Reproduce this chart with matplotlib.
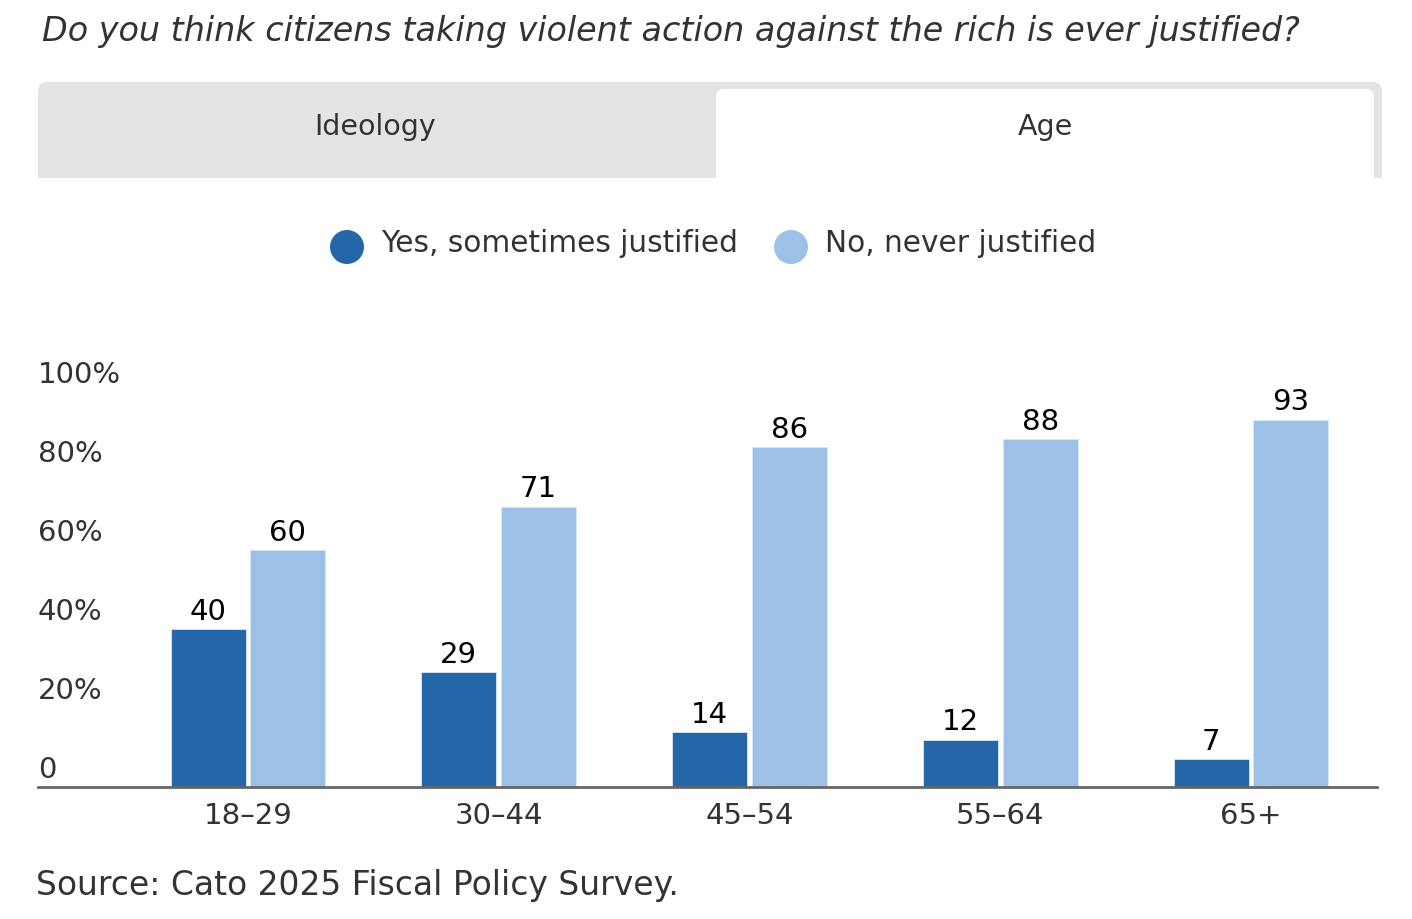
import matplotlib
matplotlib.use('Agg')
import numpy as np
import matplotlib.pyplot as plt
from matplotlib.patches import FancyBboxPatch, Rectangle, Circle
from matplotlib.transforms import Affine2D

plt.rcParams['font.family'] = ['DejaVu Sans']

# data
ages = ['18–29', '30–44', '45–54', '55–64', '65+']
yes_vals = [40, 29, 14, 12, 7]
no_vals = [60, 71, 86, 88, 93]
series_names = ['Yes, sometimes justified', 'No, never justified']
yticks = [0, 20, 40, 60, 80, 100]
ytick_labels = ['0', '20%', '40%', '60%', '80%', '100%']

dark = '#2566a8'
light = '#9dc1e6'
txt = '#333333'

W, H = 1412, 920
fig = plt.figure(figsize=(W / 100, H / 100), dpi=100)
# pixel coordinates, origin top-left
px = Affine2D().scale(1 / W, -1 / H).translate(0, 1) + fig.transFigure

# title
fig.text(42, 32, 'Do you think citizens taking violent action against the rich is ever justified?',
         transform=px, fontsize=24, style='italic', color=txt, va='center', ha='left')

# tabs
fig.patches.append(FancyBboxPatch((38, 83), 1344, 140, boxstyle='round,pad=0,rounding_size=9',
                                  transform=px, facecolor='#e4e4e4', edgecolor='none', zorder=1))
fig.patches.append(FancyBboxPatch((716, 90), 658, 140, boxstyle='round,pad=0,rounding_size=8',
                                  transform=px, facecolor='white', edgecolor='none', zorder=2))
fig.patches.append(Rectangle((20, 179), 1380, 50, transform=px, facecolor='white',
                             edgecolor='none', zorder=3))
fig.text(375, 127, 'Ideology', transform=px, fontsize=20.5, color=txt, ha='center', va='center', zorder=4)
fig.text(1045, 127, 'Age', transform=px, fontsize=20.5, color=txt, ha='center', va='center', zorder=4)

# legend
for cx, tx, col, name in [(347, 381, dark, series_names[0]), (791, 825, light, series_names[1])]:
    fig.patches.append(Circle((cx, 248), 17, transform=px, facecolor=col, edgecolor='none', zorder=4))
    fig.text(tx, 243, name, transform=px, fontsize=21.3, color=txt, ha='left', va='center', zorder=4)

# axes
ax = fig.add_axes([38 / W, (H - 788) / H, 1339 / W, 395 / H])
x = np.arange(len(ages))
bw = 0.299
off = 0.159
b1 = ax.bar(x - off, yes_vals, bw, color=dark, edgecolor='#dbe7f3', linewidth=0.6)
b2 = ax.bar(x + off, no_vals, bw, color=light, edgecolor='#dbe7f3', linewidth=0.6)
for bars, vals in [(b1, yes_vals), (b2, no_vals)]:
    for rect, v in zip(bars, vals):
        ax.annotate(str(v), (rect.get_x() + rect.get_width() / 2, v), xytext=(0, 3),
                    textcoords='offset points', ha='center', va='bottom', fontsize=21, color='black')

ax.set_xlim(-0.837, 4.502)
ax.set_ylim(0, 100)
for s in ['top', 'right', 'left']:
    ax.spines[s].set_visible(False)
ax.spines['bottom'].set_color('#666666')
ax.spines['bottom'].set_linewidth(2)
ax.set_yticks([])
ax.set_xticks(x)
ax.set_xticklabels(ages, fontsize=21, color=txt)
ax.tick_params(axis='x', length=0, pad=10)

for t, lab in zip(yticks, ytick_labels):
    ax.annotate(lab, (0, t), xycoords=('axes fraction', 'data'), xytext=(0, 3),
                textcoords='offset points', ha='left', va='bottom', fontsize=21,
                color=txt, annotation_clip=False)

# source
fig.text(36, 886, 'Source: Cato 2025 Fiscal Policy Survey.', transform=px, fontsize=23.8,
         color=txt, ha='left', va='center')

fig.savefig('out.png', dpi=100)
